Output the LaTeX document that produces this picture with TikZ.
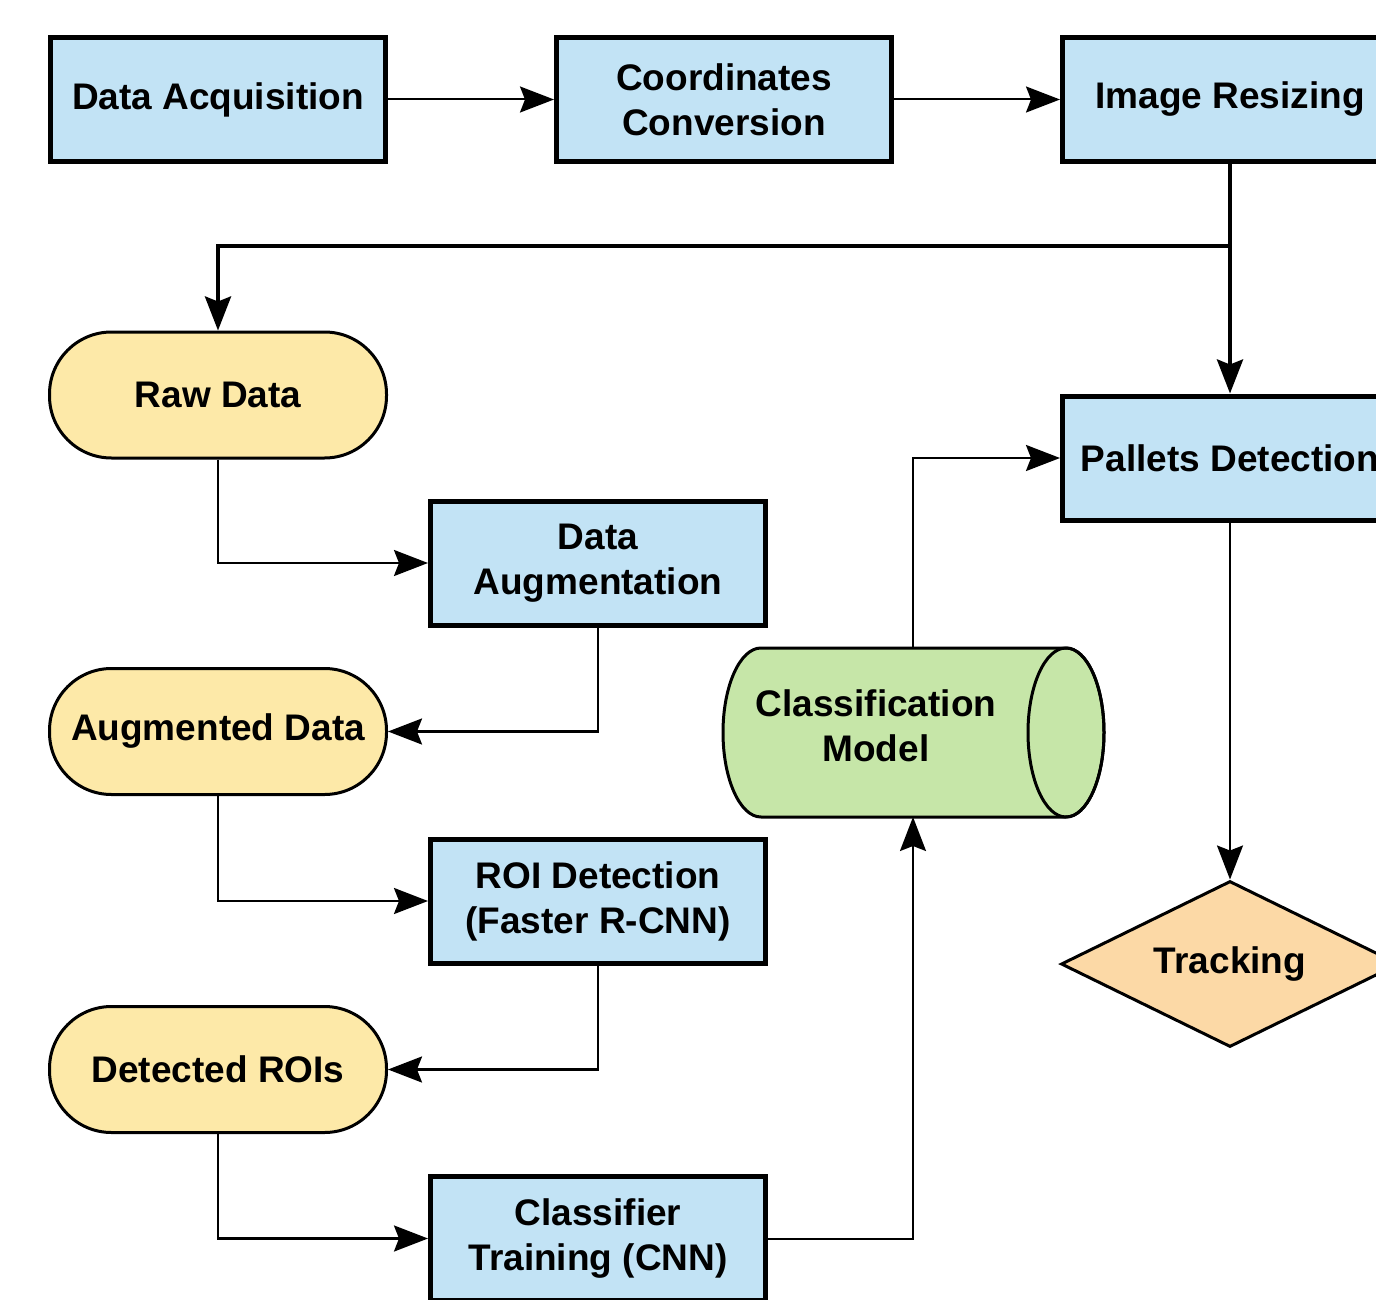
\documentclass[tikz,border=0pt]{standalone}
\usepackage{fontspec}
\setmainfont{Liberation Sans}
\usetikzlibrary{shapes.geometric,arrows.meta}
\definecolor{boxblue}{HTML}{C2E3F5}
\definecolor{dataylw}{HTML}{FDE9A8}
\definecolor{modgrn}{HTML}{C6E6A8}
\definecolor{trkorg}{HTML}{FCD9A6}
\tikzset{
  procbox/.style={draw, fill=boxblue, line width=5pt, minimum width=335pt, minimum height=124pt, inner sep=0pt, align=center},
  databox/.style={draw, fill=dataylw, line width=3pt, rounded corners=62pt, minimum width=337pt, minimum height=126pt, inner sep=0pt, align=center},
  decbox/.style={draw, fill=trkorg, line width=3pt, diamond, aspect=2, minimum width=338pt, minimum height=166pt, inner sep=0pt, align=center},
  tipshape/.style={-{Stealth[length=34pt, width=26pt, inset=5pt]}},
  conn/.style={line width=2.5pt, tipshape},
  thinconn/.style={line width=2pt, tipshape},
  plainconn/.style={line width=4pt, tipshape}
}
\begin{document}
\begin{tikzpicture}[x=1pt,y=-1pt, font=\bfseries\fontsize{37}{45}\selectfont]
\clip (0,0) rectangle (1376,1300);
\fill[white] (0,0) rectangle (1376,1300);
% process boxes
\node[procbox] (da)  at (218,99.5) {Data Acquisition};
\node[procbox] (cc)  at (724,99.5) {Coordinates\\Conversion};
\node[procbox] (ir)  at (1230,99.5) {Image Resizing};
\node[procbox] (pd)  at (1230,458) {Pallets Detection};
\node[procbox] (dau) at (598,563) {Data\\Augmentation};
\node[procbox] (roi) at (598,901) {ROI Detection\\(Faster R-CNN)};
\node[procbox] (ct)  at (598,1238.5) {Classifier\\Training (CNN)};
% data nodes
\node[databox] (rd) at (218,395) {Raw Data};
\node[databox] (ad) at (218,731.5) {Augmented Data};
\node[databox] (dr) at (218,1069.5) {Detected ROIs};
% tracking
\node[decbox] (tr) at (1230,964) {Tracking};
% classification model cylinder
\filldraw[fill=modgrn, line width=3pt] (1066,648) -- (761,648)
  arc[start angle=270, end angle=90, x radius=38, y radius=84.5]
  -- (1066,817)
  arc[start angle=90, end angle=-90, x radius=38, y radius=84.5] -- cycle;
\draw[line width=3pt] (1066,732.5) ellipse[x radius=38, y radius=84.5];
\node[align=center, inner sep=0pt] (cm) at (876,726) {Classification\\Model};
\coordinate (cmt) at (913,648);
\coordinate (cmb) at (913,817);
\coordinate (br) at (1230,246);
% connectors
\draw[thinconn] (da) -- (cc);
\draw[thinconn] (cc) -- (ir);
\draw[plainconn] (ir) -- (pd);
\draw[plainconn] (br) -| (rd.north);
\draw[conn] (rd.south) |- (dau.west);
\draw[conn] (dau.south) |- (ad.east);
\draw[conn] (ad.south) |- (roi.west);
\draw[conn] (roi.south) |- (dr.east);
\draw[conn] (dr.south) |- (ct.west);
\draw[thinconn] (ct.east) -| (cmb);
\draw[conn] (cmt) |- (pd.west);
\draw[thinconn] (pd) -- (tr);
\end{tikzpicture}
\end{document}
